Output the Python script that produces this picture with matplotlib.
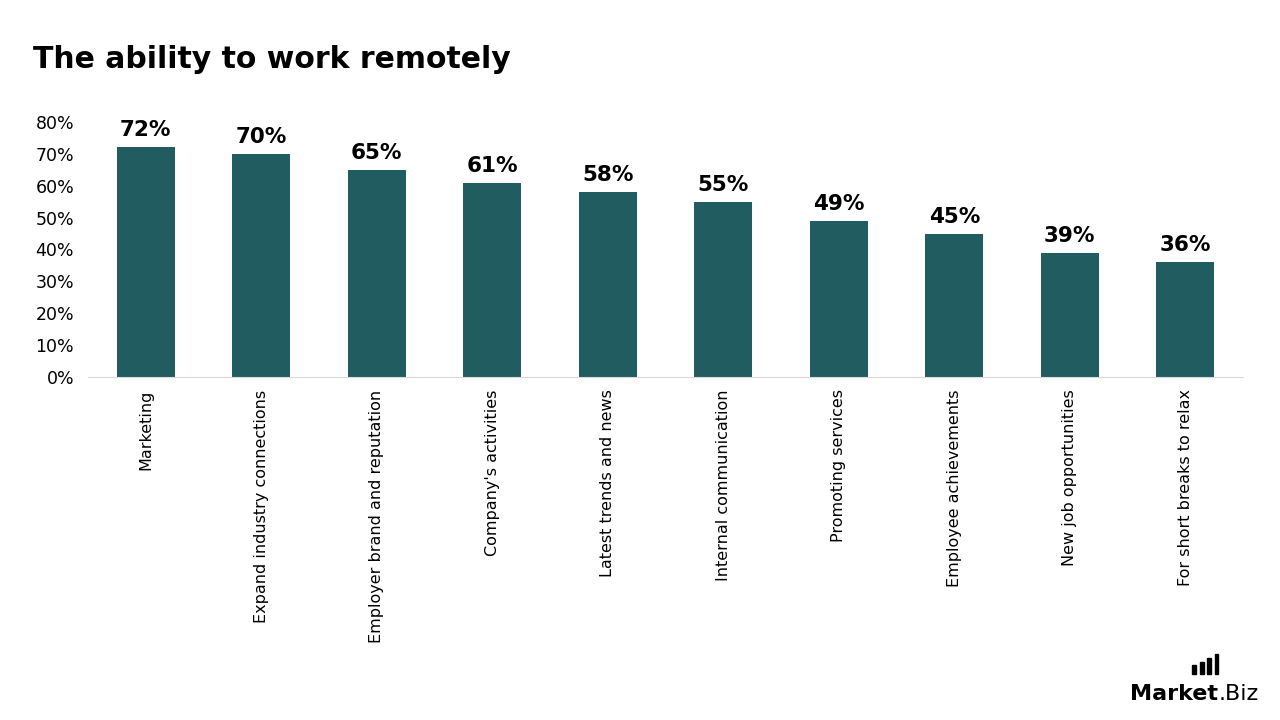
import matplotlib.pyplot as plt
from matplotlib.patches import Rectangle

categories = ["Marketing", "Expand industry connections", "Employer brand and reputation",
              "Company's activities", "Latest trends and news", "Internal communication",
              "Promoting services", "Employee achievements", "New job opportunities",
              "For short breaks to relax"]
values = [72, 70, 65, 61, 58, 55, 49, 45, 39, 36]
yticks = [0, 10, 20, 30, 40, 50, 60, 70, 80]

bar_color = "#215C61"

fig = plt.figure(figsize=(12.8, 7.2), dpi=100)
ax = fig.add_axes([0.0688, 0.4764, 0.9023, 0.3542])

x = range(len(categories))
ax.bar(x, values, width=0.5, color=bar_color)
for i, v in zip(x, values):
    ax.text(i, v + 2.2, f"{v}%", ha="center", va="bottom", fontsize=15.5,
            fontweight="bold", color="black")

ax.set_xlim(-0.5, len(categories) - 0.5)
ax.set_ylim(0, 80)
ax.set_yticks(yticks)
ax.set_yticklabels([f"{t}%" for t in yticks], fontsize=12.5)
ax.set_xticks(list(x))
ax.set_xticklabels(categories, rotation=90, fontsize=11.5)
ax.tick_params(axis="x", length=0, pad=9)
ax.tick_params(axis="y", length=0, pad=10)
for s in ["top", "right", "left"]:
    ax.spines[s].set_visible(False)
ax.spines["bottom"].set_color("#D9D9D9")

fig.text(0.026, 0.918, "The ability to work remotely", fontsize=21.5, fontweight="bold",
         ha="left", va="center")

# logo
t1 = fig.text(0.883, 0.028, "Market", fontsize=16, fontweight="bold", ha="left", va="baseline")
fig.canvas.draw()
bb = t1.get_window_extent().transformed(fig.transFigure.inverted())
fig.text(bb.x1, 0.028, ".Biz", fontsize=16, ha="left", va="baseline")
for k, h in enumerate([0.012, 0.017, 0.022, 0.028]):
    fig.patches.append(Rectangle((0.9315 + k * 0.0058, 0.064), 0.003, h,
                                 transform=fig.transFigure, color="black"))

fig.savefig("out.png", dpi=100)
